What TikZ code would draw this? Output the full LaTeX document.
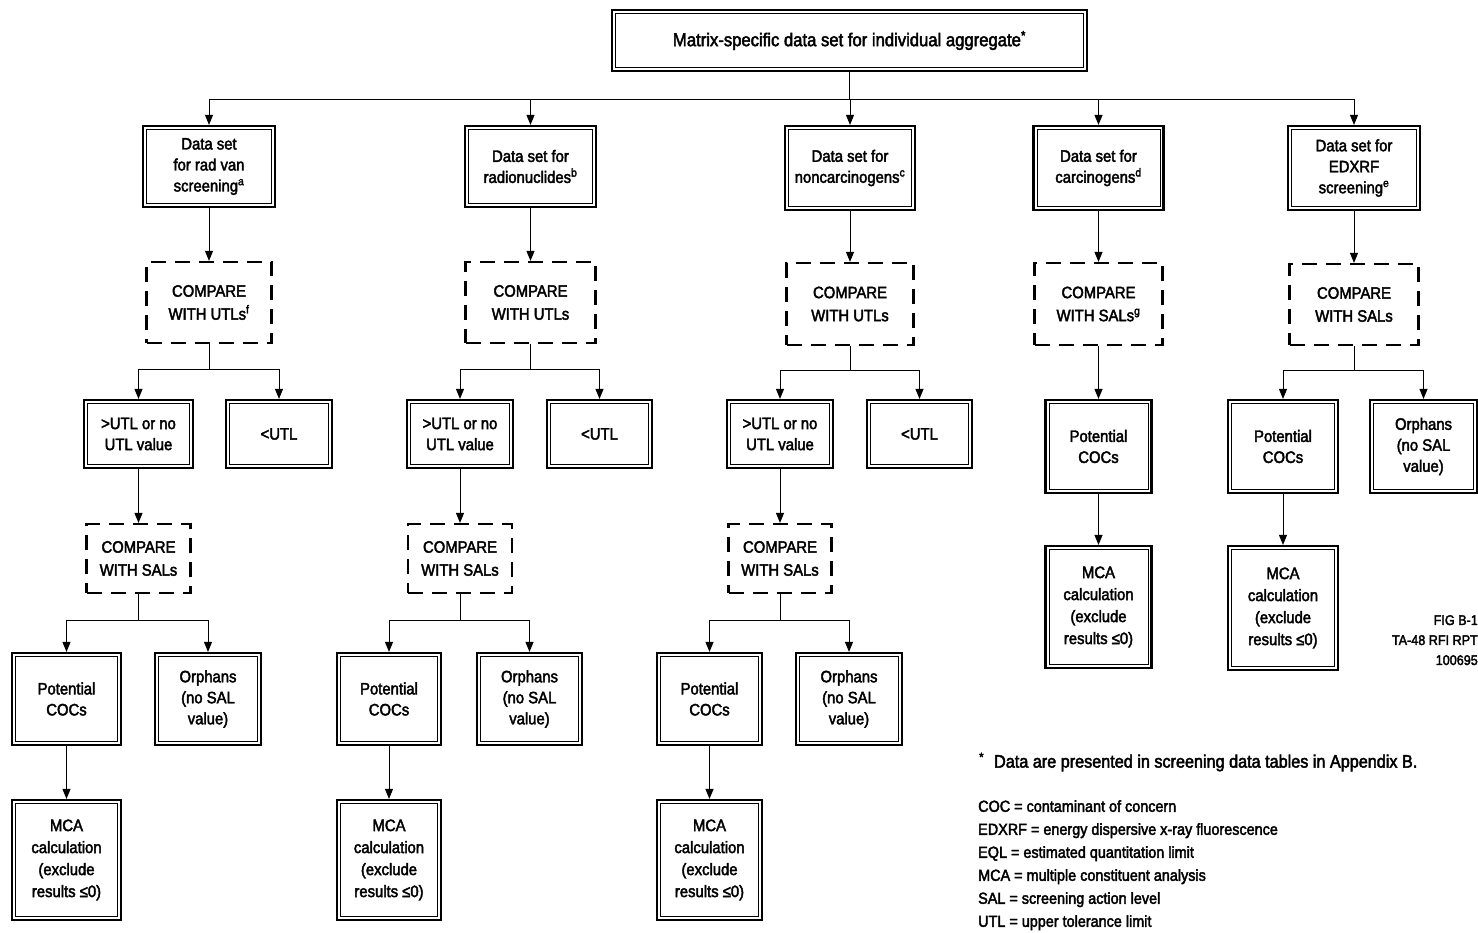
\documentclass[tikz,border=0pt]{standalone}
\usepackage{fontspec}
\setmainfont{Liberation Sans}[FakeStretch=0.9, FakeBold=2.5]
\usetikzlibrary{arrows.meta}
\tikzset{
  sz/.style 2 args={minimum width=#1pt, minimum height=#2pt},
  box/.style={draw, line width=2.2pt, align=center, inner sep=0pt,
    font=\fontsize{16.5}{21}\selectfont,
    path picture={\draw[line width=0.8pt]
      ([shift={(3.5pt,3.5pt)}]path picture bounding box.south west) rectangle
      ([shift={(-3.5pt,-3.5pt)}]path picture bounding box.north east);}},
  dbox/.style={draw, line width=2.2pt, dash pattern=on 15pt off 9pt, align=center,
    inner sep=0pt, font=\fontsize{16.5}{23}\selectfont},
  arr/.style={-{Triangle[length=10pt,width=8pt]}, line width=1pt},
  ln/.style={line width=1pt},
}
\begin{document}
\begin{tikzpicture}[x=1pt,y=-1pt]
\useasboundingbox (0,0) rectangle (1478,933);
% top
\node[box, sz={475}{61}, font=\fontsize{18.5}{21}\selectfont] (top) at (849.5,40.5) {Matrix-specific data set for individual aggregate\textsuperscript{*}};
% data boxes
\node[box, sz={132}{81}] (d1) at (209,166.5) {Data set\\for rad van\\screening\textsuperscript{a}};
\node[box, sz={131}{81}] (d2) at (530.5,166.5) {Data set for\\radionuclides\textsuperscript{b}};
\node[box, sz={130}{84}] (d3) at (850,168) {Data set for\\noncarcinogens\textsuperscript{c}};
\node[box, sz={130}{84}] (d4) at (1098.5,168) {Data set for\\carcinogens\textsuperscript{d}};
\node[box, sz={132}{84}] (d5) at (1354,168) {Data set for\\EDXRF\\screening\textsuperscript{e}};
% compare boxes
\node[dbox, sz={125}{81}] (c1) at (209,302.5) {COMPARE\\WITH UTLs\textsuperscript{f}};
\node[dbox, sz={130}{81}] (c2) at (530.5,302.5) {COMPARE\\WITH UTLs};
\node[dbox, sz={127}{82}] (c3) at (850,304) {COMPARE\\WITH UTLs};
\node[dbox, sz={128}{82}] (c4) at (1098.5,304) {COMPARE\\WITH SALs\textsuperscript{g}};
\node[dbox, sz={129}{81}] (c5) at (1354,304.5) {COMPARE\\WITH SALs};
% >UTL / <UTL
\node[box, sz={109}{68}] (g1) at (138.5,434) {>UTL or no\\UTL value};
\node[box, sz={106}{68}] (l1) at (279,434) {<UTL};
\node[box, sz={106}{68}] (g2) at (460,434) {>UTL or no\\UTL value};
\node[box, sz={105}{68}] (l2) at (599.5,434) {<UTL};
\node[box, sz={106}{68}] (g3) at (780,434) {>UTL or no\\UTL value};
\node[box, sz={105}{68}] (l3) at (919.5,434) {<UTL};
% compare with SALs
\node[dbox, sz={104}{69}] (s1) at (138.5,558.5) {COMPARE\\WITH SALs};
\node[dbox, sz={104}{69}] (s2) at (460,558.5) {COMPARE\\WITH SALs};
\node[dbox, sz={103}{69}] (s3) at (780,558.5) {COMPARE\\WITH SALs};
% potential / orphans
\node[box, sz={109}{92}] (p1) at (66.5,699) {Potential\\COCs};
\node[box, sz={106}{92}] (o1) at (208,699) {Orphans\\(no SAL\\value)};
\node[box, sz={104}{92}] (p2) at (389,699) {Potential\\COCs};
\node[box, sz={105}{92}] (o2) at (529.5,699) {Orphans\\(no SAL\\value)};
\node[box, sz={105}{92}] (p3) at (709.5,699) {Potential\\COCs};
\node[box, sz={106}{92}] (o3) at (849,699) {Orphans\\(no SAL\\value)};
\node[box, sz={106}{93}] (p4) at (1098.5,446.5) {Potential\\COCs};
\node[box, sz={110}{93}] (p5) at (1283,446.5) {Potential\\COCs};
\node[box, sz={107}{93}] (o5) at (1423.5,446.5) {Orphans\\(no SAL\\value)};
% MCA
\node[box, sz={109}{120}, font=\fontsize{16.5}{22}\selectfont] (m1) at (66.5,860) {MCA\\calculation\\(exclude\\results ≤0)};
\node[box, sz={104}{120}, font=\fontsize{16.5}{22}\selectfont] (m2) at (389,860) {MCA\\calculation\\(exclude\\results ≤0)};
\node[box, sz={105}{120}, font=\fontsize{16.5}{22}\selectfont] (m3) at (709.5,860) {MCA\\calculation\\(exclude\\results ≤0)};
\node[box, sz={106}{122}, font=\fontsize{16.5}{22}\selectfont] (m4) at (1098.5,607) {MCA\\calculation\\(exclude\\results ≤0)};
\node[box, sz={110}{124}, font=\fontsize{16.5}{22}\selectfont] (m5) at (1283,608) {MCA\\calculation\\(exclude\\results ≤0)};
% junctions
\coordinate (tb) at (849.5,100);
\coordinate (j1) at (209,369);
\coordinate (j2) at (530.5,369);
\coordinate (j3) at (850,370);
\coordinate (j5) at (1354,370);
\coordinate (k1) at (138.5,620);
\coordinate (k2) at (460,620);
\coordinate (k3) at (780,620);
% connectors
\draw[ln] (top.south) -- (tb);
\foreach \d in {d1,d2,d3,d4,d5} \draw[arr] (tb) -| (\d.north);
\foreach \i in {1,...,5} \draw[arr] (d\i) -- (c\i);
\foreach \i in {1,2,3} {
  \draw[ln] (c\i.south) -- (j\i);
  \draw[arr] (j\i) -| (g\i.north);
  \draw[arr] (j\i) -| (l\i.north);
  \draw[arr] (g\i) -- (s\i);
  \draw[ln] (s\i.south) -- (k\i);
  \draw[arr] (k\i) -| (p\i.north);
  \draw[arr] (k\i) -| (o\i.north);
  \draw[arr] (p\i) -- (m\i);
}
\draw[arr] (c4) -- (p4);
\draw[arr] (p4) -- (m4);
\draw[ln] (c5.south) -- (j5);
\draw[arr] (j5) -| (p5.north);
\draw[arr] (j5) -| (o5.north);
\draw[arr] (p5) -- (m5);
% notes
\node[anchor=north east, align=right, inner sep=0pt, font=\fontsize{14}{20}\selectfont] (fig) at (1478,615) {FIG B-1\\TA-48 RFI RPT\\100695};
\node[anchor=west, inner sep=0pt, font=\fontsize{18}{22}\selectfont] (fn) at (979,762) {\textsuperscript{*}\hspace{10pt}Data are presented in screening data tables in Appendix B.};
\node[anchor=north west, align=left, inner sep=0pt, font=\fontsize{16}{23}\selectfont] (leg) at (978,800) {COC = contaminant of concern\\EDXRF = energy dispersive x-ray fluorescence\\EQL = estimated quantitation limit\\MCA = multiple constituent analysis\\SAL = screening action level\\UTL = upper tolerance limit};
\end{tikzpicture}
\end{document}
